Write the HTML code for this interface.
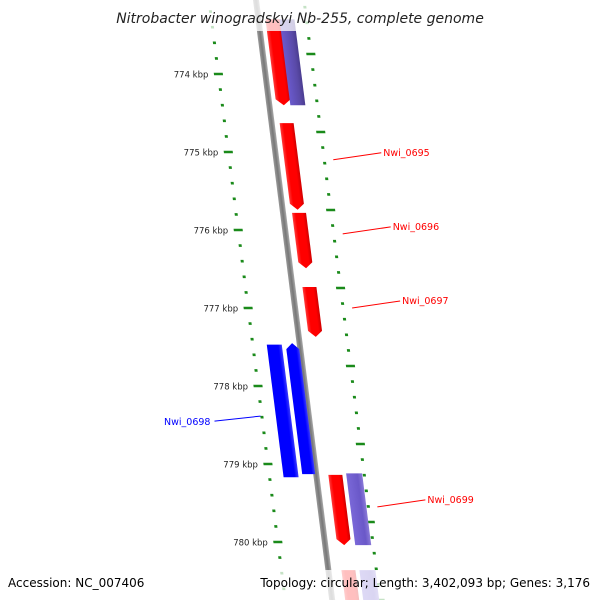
<!DOCTYPE html>
<html><head><meta charset="utf-8"><style>
html,body{margin:0;padding:0;background:#fff;width:600px;height:600px;overflow:hidden}
svg{display:block;font-family:"DejaVu Sans","Liberation Sans",sans-serif}
</style></head><body>
<svg id="map" width="600" height="600" viewBox="0 0 600 600" xmlns="http://www.w3.org/2000/svg">
<defs>
<linearGradient id="gRed" x1="0" x2="1" y1="0" y2="0"><stop offset="0" stop-color="#ff3a3a"/><stop offset="0.25" stop-color="#ff0000"/><stop offset="0.75" stop-color="#ff0000"/><stop offset="1" stop-color="#d00000"/></linearGradient>
<linearGradient id="gBlue" x1="0" x2="1" y1="0" y2="0"><stop offset="0" stop-color="#0000ff"/><stop offset="0.75" stop-color="#0000ff"/><stop offset="1" stop-color="#3a3aff"/></linearGradient>
<linearGradient id="gPurp" x1="0" x2="1" y1="0" y2="0"><stop offset="0" stop-color="#6a5acd"/><stop offset="0.7" stop-color="#5a4aa8"/><stop offset="1" stop-color="#4a3c90"/></linearGradient>
<linearGradient id="gPurp2" x1="0" x2="1" y1="0" y2="0"><stop offset="0" stop-color="#7a68d8"/><stop offset="0.7" stop-color="#6a58c8"/><stop offset="1" stop-color="#8a7ad8"/></linearGradient>
<linearGradient id="gBack" x1="0" x2="1" y1="0" y2="0"><stop offset="0" stop-color="#999"/><stop offset="0.5" stop-color="#777"/><stop offset="1" stop-color="#aaa"/></linearGradient>
</defs>
<g id="skew" transform="matrix(1,0,0.127,1,256,0)"></g>
<g id="labels"></g>
<rect x="0" y="0" width="600" height="31" fill="#fff" fill-opacity="0.75"/>
<text x="300" y="23" text-anchor="middle" font-size="14" font-style="italic" fill="#222">Nitrobacter winogradskyi Nb-255, complete genome</text>
<rect x="0" y="570" width="600" height="30" fill="#fff" fill-opacity="0.75"/>
<text x="8" y="587" font-size="12" fill="#000">Accession: NC_007406</text>
<text x="590" y="587" font-size="12" fill="#000" text-anchor="end">Topology: circular; Length: 3,402,093 bp; Genes: 3,176</text>
</svg>
<script>
const geneNames = ["g-top-red","g-top-purple","Nwi_0695","Nwi_0696","Nwi_0697","Nwi_0698a","Nwi_0698","Nwi_0699","g-0699-purple","g-bot-red","g-bot-purple"];
const geneStart = [773.3,773.3,774.63,775.78,776.73,777.47,777.45,779.14,779.12,780.36,780.36];
const geneEnd   = [774.40,774.40,775.74,776.49,777.37,779.17,779.13,780.04,780.04,781.0,781.0];
const geneStrand= [1,0,1,1,1,0,-1,1,0,1,0];
const geneKind  = ["red","purple","red","red","red","blue","blue","red","purple2","red","purple2"];
const geneLane  = [[7,22],[21,36],[8,22],[9,23],[10,24],[-33,-18],[-14,-1],[12,26],[30,46],[13,27],[31,47]];
const tickMajor = [774,775,776,777,778,779,780];
const tickLabels = ["774 kbp","775 kbp","776 kbp","777 kbp","778 kbp","779 kbp","780 kbp"];
const labelGenes = ["Nwi_0695","Nwi_0696","Nwi_0697","Nwi_0698","Nwi_0699"];
const labelKbp = [775.1,776.05,777.0,778.45,779.55];

const NS="http://www.w3.org/2000/svg";
function yOf(k){return 74+(k-774)*78;}
function xOf(off,y){return 256+off+0.127*y;}
const sk=document.getElementById('skew'), lb=document.getElementById('labels');
function mk(t,a,p){const e=document.createElementNS(NS,t);for(const k in a)e.setAttribute(k,a[k]);p.appendChild(e);return e;}

const bb=mk('rect',{x:-3,y:-10,width:6,height:620,fill:'url(#gBack)'},sk);



for(let k=773.0;k<=781.01;k+=0.2){
  const kk=Math.round(k*10)/10, major=Math.abs(kk-Math.round(kk))<0.01;
  const yl=yOf(kk), yr=yOf(kk)-20;
  const len=major?9:3;
  const t1=mk('rect',{x:-47-len/2,y:yl-1.3,width:len,height:2.6,fill:'#1a8a1a'},sk);
  
  
  const t2=mk('rect',{x:48-len/2,y:yr-1.3,width:len,height:2.6,fill:'#1a8a1a'},sk);
  
  
}
tickMajor.forEach((k,i)=>{
  const y=yOf(k);
  const t=mk('text',{x:xOf(-47,y)-10,y:y+3.5,'font-size':'8.5','text-anchor':'end',fill:'#222'},lb);
  t.textContent=tickLabels[i];
  
  
});

geneNames.forEach((n,i)=>{
  const y1=yOf(geneStart[i]), y2=yOf(geneEnd[i]);
  const [a,b]=geneLane[i], m=(a+b)/2, h=6;
  let pts;
  if(geneStrand[i]===1) pts=[[a,y1],[b,y1],[b,y2-h],[m,y2],[a,y2-h]];
  else if(geneStrand[i]===-1) pts=[[a,y1+h],[m,y1],[b,y1+h],[b,y2],[a,y2]];
  else pts=[[a,y1],[b,y1],[b,y2],[a,y2]];
  const fill={red:'url(#gRed)',blue:'url(#gBlue)',purple:'url(#gPurp)',purple2:'url(#gPurp2)'}[geneKind[i]];
  const p=mk('polygon',{points:pts.map(q=>q.join(',')).join(' '),fill:fill},sk);
  
  
});

labelGenes.forEach((n,i)=>{
  const y=yOf(labelKbp[i]);
  const blue=n==="Nwi_0698";
  const col=blue?'#0000ff':'#ff0000';
  let x1,x2,tx,anchor,y2,ty;
  if(blue){x1=xOf(-48,y)-1;x2=x1-46;y1=y-5;y2=y;tx=x2-4;anchor='end';ty=y+4;}
  else{x1=xOf(52,y)+5;x2=x1+48;y1=y;y2=y-7;tx=x2+2;anchor='start';ty=y-4;}
  const l=mk('line',{x1:x1,y1:y1,x2:x2,y2:y2,stroke:col,'stroke-width':1},lb);
  
  
  const t=mk('text',{x:tx,y:ty,'font-size':'9.5','text-anchor':anchor,fill:col},lb);
  t.textContent=n;
  
  
});
var y1;
</script>
</body></html>
